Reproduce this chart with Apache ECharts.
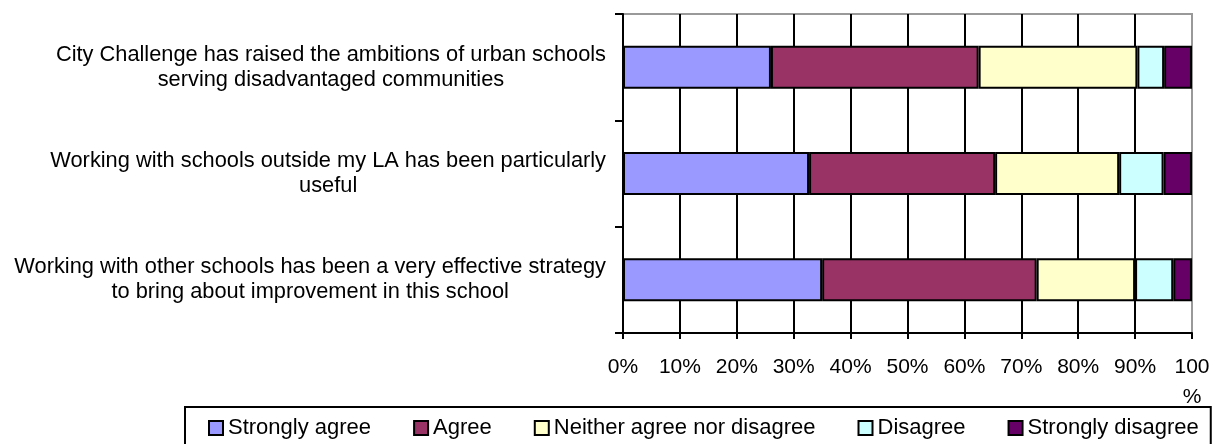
<!DOCTYPE html>
<html>
<head>
<meta charset="utf-8">
<script src="https://cdn.jsdelivr.net/npm/echarts@6/dist/echarts.min.js"></script>
<style>
  html, body { margin: 0; padding: 0; background: #fff; }
  #chart { width: 1213px; height: 444px; }
</style>
</head>
<body>
<div id="chart"></div>
<script>
// Survey statements (two-line labels) and response shares in percent
const categories = [
  'City Challenge has raised the ambitions of urban schools\nserving disadvantaged communities',
  'Working with schools outside my LA has been particularly\nuseful',
  'Working with other schools has been a very effective strategy\nto bring about improvement in this school'
];
const seriesNames = ['Strongly agree', 'Agree', 'Neither agree nor disagree', 'Disagree', 'Strongly disagree'];
const stronglyAgree    = [26.0, 32.7, 35.0];
const agree            = [36.5, 32.7, 37.7];
const neither          = [27.9, 21.8, 17.3];
const disagree         = [4.7, 7.8, 6.7];
const stronglyDisagree = [4.9, 5.0, 3.3];
const tickValues = [0, 10, 20, 30, 40, 50, 60, 70, 80, 90, 100];
const tickLabels = ['0%', '10%', '20%', '30%', '40%', '50%', '60%', '70%', '80%', '90%', '100\n%'];
const colors = ['#9999FF', '#993366', '#FFFFCC', '#CCFFFF', '#660066'];

const FONT = '"Liberation Sans", Arial, sans-serif';
const valueSets = [stronglyAgree, agree, neither, disagree, stronglyDisagree];

const chart = echarts.init(document.getElementById('chart'), null, { renderer: 'canvas' });

chart.setOption({
  animation: false,
  color: colors,
  grid: {
    left: 623, right: 21, top: 14, bottom: 111,
    show: true,
    borderColor: '#999',
    borderWidth: 2,
    backgroundColor: 'transparent',
    containLabel: false,
    outerBoundsMode: 'none'
  },
  legend: {
    left: 185,
    top: 407,
    width: 1010,
    padding: [10, 12, 30, 23],
    itemGap: 42,
    itemWidth: 14,
    itemHeight: 14,
    icon: 'rect',
    borderColor: '#000',
    borderWidth: 2,
    textStyle: { fontSize: 22, fontFamily: FONT, color: '#000' },
    data: seriesNames
  },
  xAxis: {
    type: 'value',
    min: 0,
    max: 100,
    interval: 10,
    axisLine: { show: true, lineStyle: { color: '#000', width: 2 } },
    axisTick: { show: true, length: 6, lineStyle: { color: '#000', width: 2 } },
    splitLine: { show: true, showMaxLine: false, lineStyle: { color: '#000', width: 2 } },
    axisLabel: {
      margin: 19,
      fontSize: 21,
      fontFamily: FONT,
      color: '#000',
      lineHeight: 30,
      formatter: v => tickLabels[tickValues.indexOf(v)]
    }
  },
  yAxis: {
    type: 'category',
    inverse: true,
    data: categories,
    axisLine: { show: true, lineStyle: { color: '#000', width: 2 } },
    axisTick: { show: true, length: 8, lineStyle: { color: '#000', width: 2 } },
    splitLine: { show: false },
    axisLabel: {
      margin: 17,
      // each line centred inside the right-aligned label block
      formatter: v => v.split('\n').map(l => '{c|' + l + '}').join('\n'),
      rich: {
        c: { align: 'center', fontSize: 21.8, fontFamily: FONT, color: '#000', lineHeight: 25 }
      }
    }
  },
  series: seriesNames.map((name, i) => ({
    name: name,
    type: 'bar',
    stack: 'total',
    barWidth: 43,
    data: valueSets[i],
    itemStyle: { borderColor: '#000', borderWidth: 2 },
    emphasis: { disabled: true }
  }))
});
</script>
</body>
</html>
